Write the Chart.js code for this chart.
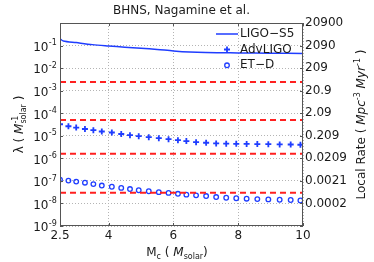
<!DOCTYPE html>
<html>
<head>
<meta charset="utf-8">
<script src="https://cdn.jsdelivr.net/npm/chart.js@4/dist/chart.umd.min.js"></script>
<style>
  html, body { margin: 0; padding: 0; background: #fff; }
</style>
</head>
<body>
<canvas id="chart" width="374" height="262"></canvas>
<script>
// chirp mass samples shared by the AdvLIGO / ET-D markers
const mass = [2.5, 2.76, 3.0, 3.27, 3.53, 3.79, 4.1, 4.39, 4.66, 4.93, 5.24, 5.55, 5.85,
  6.14, 6.4, 6.7, 7.01, 7.32, 7.63, 7.94, 8.26, 8.59, 8.93, 9.28, 9.62, 9.92];

const advLigo = [3.25e-5, 2.65e-5, 2.3e-5, 2.0e-5, 1.78e-5, 1.55e-5, 1.4e-5, 1.2e-5, 1.06e-5,
  9.6e-6, 8.7e-6, 7.8e-6, 7.1e-6, 6.4e-6, 5.8e-6, 5.2e-6, 4.9e-6, 4.6e-6, 4.45e-6, 4.4e-6,
  4.35e-6, 4.3e-6, 4.25e-6, 4.15e-6, 4.1e-6, 4.0e-6];

const etD = [1.14e-7, 1.03e-7, 9.3e-8, 8.3e-8, 7.2e-8, 6.2e-8, 5.5e-8, 4.9e-8, 4.35e-8,
  3.84e-8, 3.47e-8, 3.17e-8, 2.94e-8, 2.68e-8, 2.46e-8, 2.29e-8, 2.13e-8, 1.92e-8, 1.79e-8,
  1.7e-8, 1.62e-8, 1.56e-8, 1.51e-8, 1.46e-8, 1.42e-8, 1.35e-8];

// LIGO-S5 upper limit curve
const ligoMass = [2.5, 2.6, 3.0, 3.5, 4.0, 4.5, 5.0, 5.5, 6.0, 6.5, 7.0, 7.5, 8.0, 9.0, 10.0];
const ligoS5 = [0.2, 0.16, 0.135, 0.11, 0.096, 0.085, 0.076, 0.067, 0.058, 0.052, 0.049,
  0.048, 0.047, 0.046, 0.045];

// red dashed horizontal levels
const rateLevels = [2.45e-3, 5.0e-5, 1.6e-6, 3.0e-8];

// axes
const xTicks = [2.5, 4, 6, 8, 10];
const lambdaExp = [-9, -8, -7, -6, -5, -4, -3, -2, -1, 0];
const rateFactor = 20900;
const rateLabels = ["0.0002", "0.0021", "0.0209", "0.209", "2.09", "20.9", "209", "2090", "20900"];

const BLUE = "#1f3dff";
const RED = "#ff2020";
const FONT = "DejaVu Sans";

function pts(xs, ys) {
  return xs.map((x, i) => ({ x, y: ys[i] }));
}

function font(size, italic) {
  return (italic ? "italic " : "") + size + "px '" + FONT + "'";
}

// draws a run list like [{t, size, italic, dy, keep}] centered at (0,0) of the current transform
function drawRuns(ctx, runs) {
  let total = 0;
  runs.forEach((r) => {
    ctx.font = font(r.size || 12, r.italic);
    r.w = ctx.measureText(r.t).width;
    if (!r.keep) total += r.w;
  });
  let x = -total / 2;
  ctx.textAlign = "left";
  ctx.textBaseline = "alphabetic";
  runs.forEach((r) => {
    ctx.font = font(r.size || 12, r.italic);
    ctx.fillText(r.t, x, r.dy || 0);
    if (!r.keep) x += r.w;
  });
}

const decorations = {
  id: "decorations",
  afterDraw(chart) {
    const ctx = chart.ctx;
    const a = chart.chartArea;
    const xs = chart.scales.x;
    const ys = chart.scales.y;
    ctx.save();

    // frame + inward ticks
    ctx.strokeStyle = "#555";
    ctx.lineWidth = 1;
    ctx.strokeRect(a.left + 0.5, a.top + 0.5, a.right - a.left - 1, a.bottom - a.top - 1);
    ctx.beginPath();
    xTicks.forEach((v) => {
      const px = Math.round(xs.getPixelForValue(v)) + 0.5;
      ctx.moveTo(px, a.bottom); ctx.lineTo(px, a.bottom - 3);
      ctx.moveTo(px, a.top); ctx.lineTo(px, a.top + 3);
    });
    lambdaExp.forEach((e) => {
      const py = Math.round(ys.getPixelForValue(Math.pow(10, e))) + 0.5;
      ctx.moveTo(a.left, py); ctx.lineTo(a.left + 3, py);
      ctx.moveTo(a.right, py); ctx.lineTo(a.right - 3, py);
    });
    ctx.stroke();

    // left tick labels 10^n
    ctx.fillStyle = "#1a1a1a";
    lambdaExp.forEach((e) => {
      if (e === 0) return;
      const py = ys.getPixelForValue(Math.pow(10, e));
      ctx.font = font(12);
      ctx.textAlign = "right";
      ctx.textBaseline = "alphabetic";
      ctx.fillText("10", a.left - 11.5, py + 5.3);
      ctx.font = font(8);
      ctx.textAlign = "left";
      ctx.fillText("-" + Math.abs(e), a.left - 11.2, py - 0.3);
    });

    // title
    ctx.font = font(12);
    ctx.textAlign = "center";
    ctx.textBaseline = "alphabetic";
    ctx.fillText("BHNS, Nagamine et al.", (a.left + a.right) / 2, 14);

    // x axis title
    ctx.save();
    ctx.translate(177, 256);
    drawRuns(ctx, [
      { t: "M" },
      { t: "c", size: 8, dy: 3 },
      { t: " ( " },
      { t: "M", italic: true },
      { t: "solar", size: 8, dy: 3 },
      { t: ")" },
    ]);
    ctx.restore();

    // left axis title
    ctx.save();
    ctx.translate(23, (a.top + a.bottom) / 2);
    ctx.rotate(-Math.PI / 2);
    drawRuns(ctx, [
      { t: "\u03bb ( " },
      { t: "M", italic: true },
      { t: "-1", size: 8, dy: -5, keep: true },
      { t: "solar", size: 8, dy: 3 },
      { t: " )" },
    ]);
    ctx.restore();

    // right axis title
    ctx.save();
    ctx.translate(365, (a.top + a.bottom) / 2);
    ctx.rotate(-Math.PI / 2);
    drawRuns(ctx, [
      { t: "Local Rate ( " },
      { t: "Mpc", italic: true },
      { t: "-3", size: 8, dy: -5 },
      { t: " " },
      { t: "Myr", italic: true },
      { t: "-1", size: 8, dy: -5 },
      { t: " )" },
    ]);
    ctx.restore();

    // legend (no box)
    ctx.strokeStyle = BLUE;
    ctx.lineWidth = 1.5;
    ctx.beginPath();
    ctx.moveTo(216, 34); ctx.lineTo(238, 34);
    ctx.stroke();
    ctx.lineWidth = 1.8;
    ctx.beginPath();
    ctx.moveTo(224, 49.5); ctx.lineTo(230, 49.5);
    ctx.moveTo(227, 46.5); ctx.lineTo(227, 52.5);
    ctx.stroke();
    ctx.lineWidth = 1.3;
    ctx.beginPath();
    ctx.arc(227, 65.3, 2.3, 0, Math.PI * 2);
    ctx.stroke();

    ctx.fillStyle = "#1a1a1a";
    ctx.font = font(12);
    ctx.textAlign = "left";
    ctx.textBaseline = "middle";
    ctx.fillText("LIGO\u2212S5", 240, 33.5);
    ctx.fillText("AdvLIGO", 240, 49.5);
    ctx.fillText("ET\u2212D", 240, 65.3);

    ctx.restore();
  },
};

const limitSets = rateLevels.map((v) => ({
  label: "level",
  data: [{ x: 2.5, y: v }, { x: 10, y: v }],
  borderColor: RED,
  borderWidth: 2,
  borderDash: [6, 4],
  pointRadius: 0,
  order: 0,
}));

new Chart(document.getElementById("chart"), {
  type: "line",
  data: {
    datasets: [
      {
        label: "LIGO\u2212S5",
        data: pts(ligoMass, ligoS5),
        borderColor: BLUE,
        borderWidth: 1.5,
        pointRadius: 0,
        tension: 0.3,
        order: 1,
      },
      {
        label: "AdvLIGO",
        data: pts(mass, advLigo),
        showLine: false,
        pointStyle: "cross",
        pointRadius: 3,
        borderColor: BLUE,
        pointBorderWidth: 1.8,
        order: 2,
      },
      {
        label: "ET\u2212D",
        data: pts(mass, etD),
        showLine: false,
        pointStyle: "circle",
        pointRadius: 2.3,
        borderColor: BLUE,
        backgroundColor: "rgba(0,0,0,0)",
        pointBorderWidth: 1.3,
        order: 2,
      },
      ...limitSets,
    ],
  },
  options: {
    responsive: false,
    animation: false,
    events: [],
    layout: { padding: { top: 23, left: 0, right: 0, bottom: 0 } },
    plugins: { legend: { display: false }, tooltip: { enabled: false }, title: { display: false } },
    scales: {
      x: {
        type: "linear",
        min: 2.5,
        max: 10,
        afterBuildTicks: (s) => { s.ticks = xTicks.map((v) => ({ value: v })); },
        afterFit: (s) => { s.height = 36; },
        ticks: {
          autoSkip: false,
          maxRotation: 0,
          padding: 3,
          color: "#1a1a1a",
          font: { family: FONT, size: 12 },
          callback: (v) => String(v),
        },
        grid: { color: "#b4b4b4", drawTicks: false },
        border: { display: false, dash: [1, 2] },
      },
      y: {
        type: "logarithmic",
        min: 1e-9,
        max: 1,
        afterBuildTicks: (s) => { s.ticks = lambdaExp.map((e) => ({ value: Math.pow(10, e) })); },
        afterFit: (s) => { s.width = 60; },
        ticks: { display: false },
        grid: { color: "#b4b4b4", drawTicks: false },
        border: { display: false, dash: [1, 2] },
      },
      y2: {
        type: "logarithmic",
        position: "right",
        min: 1e-9 * rateFactor,
        max: rateFactor,
        afterBuildTicks: (s) => {
          s.ticks = lambdaExp.slice(1).map((e) => ({ value: Math.pow(10, e) * rateFactor }));
        },
        afterFit: (s) => { s.width = 71; },
        ticks: {
          padding: 2,
          color: "#1a1a1a",
          font: { family: FONT, size: 12 },
          callback: (v, i) => rateLabels[i],
        },
        grid: { display: false, drawTicks: false },
        border: { display: false },
      },
    },
  },
  plugins: [decorations],
});
</script>
</body>
</html>
